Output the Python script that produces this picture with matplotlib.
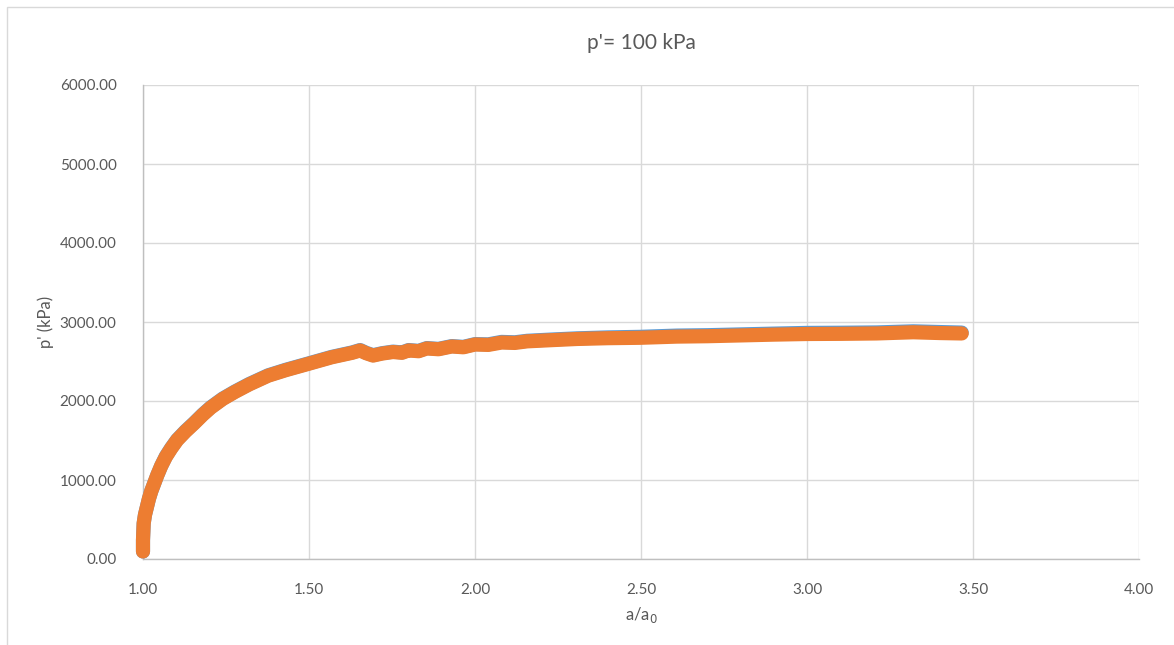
import matplotlib.pyplot as plt
from matplotlib.patches import Rectangle

plt.rcParams['font.family'] = ['Lato', 'DejaVu Sans']

# a/a0 and p' (kPa)
ratio = [1.000, 1.000, 1.002, 1.006, 1.012, 1.018, 1.025, 1.034, 1.043, 1.055,
         1.069, 1.085, 1.103, 1.128, 1.154, 1.180, 1.204, 1.240, 1.277, 1.320,
         1.377, 1.430, 1.498, 1.568, 1.630, 1.654, 1.672, 1.693, 1.720, 1.753,
         1.780, 1.800, 1.830, 1.855, 1.890, 1.930, 1.965, 2.000, 2.040, 2.080,
         2.120, 2.157, 2.230, 2.307, 2.400, 2.497, 2.608, 2.700, 2.800, 2.900,
         3.000, 3.100, 3.210, 3.320, 3.400, 3.466]
p_orange = [95, 240, 450, 560, 662, 765, 860, 960, 1060, 1180,
            1295, 1400, 1506, 1615, 1717, 1825, 1915, 2025, 2115, 2210,
            2320, 2390, 2470, 2553, 2610, 2640, 2605, 2575, 2600, 2620,
            2610, 2640, 2630, 2665, 2655, 2690, 2680, 2715, 2710, 2740,
            2735, 2755, 2770, 2785, 2795, 2800, 2815, 2820, 2830, 2840,
            2848, 2850, 2855, 2870, 2860, 2855]
p_blue = [95, 240, 450, 560, 662, 765, 860, 960, 1060, 1180,
          1300, 1405, 1510, 1620, 1722, 1830, 1920, 2030, 2120, 2215,
          2325, 2395, 2475, 2558, 2615, 2645, 2610, 2580, 2605, 2625,
          2615, 2645, 2635, 2670, 2660, 2695, 2685, 2720, 2717, 2748,
          2743, 2762, 2778, 2793, 2805, 2812, 2828, 2833, 2843, 2853,
          2862, 2864, 2868, 2882, 2873, 2866]

xticks = [1.0, 1.5, 2.0, 2.5, 3.0, 3.5, 4.0]
yticks = [0, 1000, 2000, 3000, 4000, 5000, 6000]

fig = plt.figure(figsize=(11.74, 6.45), dpi=100)
ax = fig.add_axes([143/1174, 1-559/645, 996/1174, 474/645])

ax.plot(ratio, p_blue, color='#5B9BD5', lw=10.2, solid_capstyle='round', solid_joinstyle='round',
        zorder=3, clip_on=False)
ax.plot(ratio, p_orange, color='#ED7D31', lw=10.2, solid_capstyle='round', solid_joinstyle='round',
        zorder=4, clip_on=False)

ax.set_xlim(1.0, 4.0)
ax.set_ylim(0, 6000)
ax.set_xticks(xticks)
ax.set_yticks(yticks)
ax.set_xticklabels(['%.2f' % v for v in xticks])
ax.set_yticklabels(['%.2f' % v for v in yticks])
ax.tick_params(length=0, labelsize=11, colors='#595959')
ax.tick_params(axis='x', pad=17)
ax.tick_params(axis='y', pad=19)
ax.grid(True, color='#D9D9D9', lw=1)
ax.set_axisbelow(True)
for s in ['top', 'right']:
    ax.spines[s].set_visible(False)
for s in ['left', 'bottom']:
    ax.spines[s].set_color('#BFBFBF')
    ax.spines[s].set_linewidth(1)

ax.set_title("p'= 100 kPa", fontsize=15, color='#595959', pad=26)
ax.set_xlabel('a/a$_0$', fontsize=12, color='#595959', labelpad=6)
ax.set_ylabel("p' (kPa)", fontsize=12, color='#595959', labelpad=4)

# chart border
fig.patches.append(Rectangle((7/1174, -0.01), 1.0, 1 - 7/645 + 0.01, transform=fig.transFigure,
                             fill=False, edgecolor='#D9D9D9', lw=1))

fig.savefig('out.png', dpi=100)
